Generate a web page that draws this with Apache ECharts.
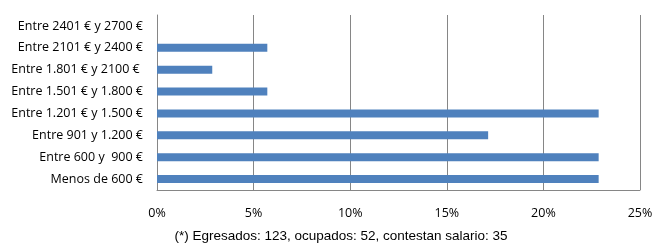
<!DOCTYPE html>
<html><head><meta charset="utf-8">
<script src="https://cdn.jsdelivr.net/npm/echarts@6/dist/echarts.min.js"></script>
<style>html,body{margin:0;padding:0;background:#fff}#c{width:661px;height:251px}</style>
</head><body><div id="c"></div>
<script>
const categories = ["Menos de 600 €","Entre 600 y  900 €","Entre 901 y 1.200 €","Entre 1.201 € y 1.500 €","Entre 1.501 € y 1.800 €","Entre 1.801 € y 2100 € ","Entre 2101 € y 2400 €","Entre 2401 € y 2700 €"];
const values = [22.86, 22.86, 17.14, 22.86, 5.71, 2.86, 5.71, 0];
const footnote = "(*) Egresados: 123, ocupados: 52, contestan salario: 35";
const chart = echarts.init(document.getElementById('c'));
chart.setOption({
  animation:false,
  grid:{left:157,right:21,top:15,bottom:61},
  title:{text:footnote,left:336,textAlign:'center',top:224,textStyle:{fontFamily:'Liberation Sans',fontSize:13.5,fontWeight:'normal',color:'#000'}},
  xAxis:{type:'value',min:0,max:25,interval:5,
    axisLine:{show:true,lineStyle:{color:'#868686'}},axisTick:{show:false},
    splitLine:{show:true,lineStyle:{color:'#868686'}},
    axisLabel:{formatter:'{value}%',margin:17,fontFamily:'Open Sans',fontSize:12.5,color:'#000'}},
  yAxis:{type:'category',data:categories,
    axisLine:{show:true,lineStyle:{color:'#868686'}},axisTick:{show:false},
    axisLabel:{margin:14,fontFamily:'Open Sans',fontSize:12.5,color:'#000'}},
  series:[{type:'bar',data:values,barWidth:8,itemStyle:{color:'#4F81BD'}}]
});
</script></body></html>
